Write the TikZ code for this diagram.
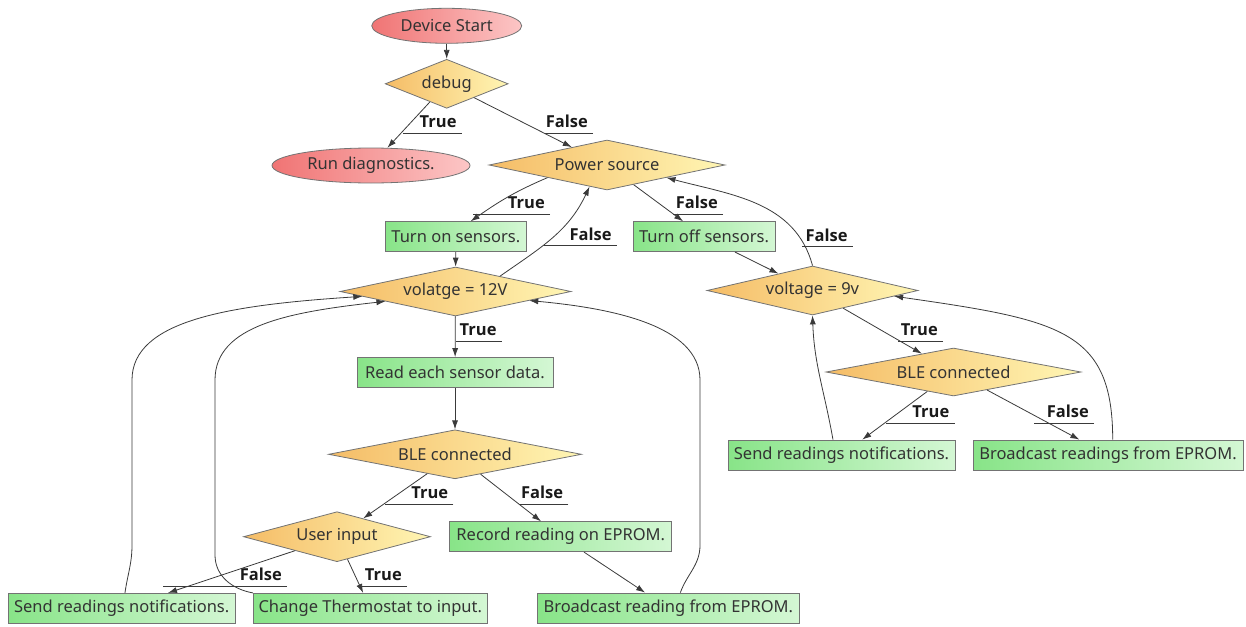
\documentclass[tikz,border=0pt]{standalone}
\usepackage{fontspec}
\setmainfont{Noto Sans}
\IfFontExistsTF{NotoSans-Bold.ttf}{\newfontfamily\labfont{NotoSans-Bold.ttf}}{%
 \IfFontExistsTF{Open Sans Bold}{\newfontfamily\labfont{Open Sans Bold}}{%
  \IfFontExistsTF{OpenSans-Bold.ttf}{\newfontfamily\labfont{OpenSans-Bold.ttf}}{%
   \newfontfamily\labfont{Noto Sans}[FakeBold=4]}}}
\usetikzlibrary{shapes.geometric,arrows.meta,calc}
\definecolor{redL}{HTML}{F07474}
\definecolor{redR}{HTML}{FCC6C6}
\definecolor{ornL}{HTML}{F5BC66}
\definecolor{ornR}{HTML}{FFF6B4}
\definecolor{grnL}{HTML}{88E488}
\definecolor{grnR}{HTML}{D4F7D4}
\definecolor{txt}{HTML}{333333}
\definecolor{lin}{HTML}{3A3A3A}
\begin{document}
\begin{tikzpicture}[x=1pt,y=-1pt,
  every node/.style={font=\fontsize{16.5}{20}\selectfont, text=txt},
  base/.style={draw=black!55, line width=0.8pt, inner sep=0pt},
  term/.style={base, ellipse, left color=redL, right color=redR},
  cond/.style={base, diamond, left color=ornL, right color=ornR},
  proc/.style={base, rectangle, left color=grnL, right color=grnR, minimum height=30pt},
  arr/.style={draw=lin, line width=0.8pt, -{Latex[length=9pt,width=6pt]}},
  elab/.style={font=\labfont\fontsize{16.5}{20}\selectfont, text=black!90, anchor=south east,
    inner xsep=0pt, inner ysep=5pt,
    append after command={(\tikzlastnode.south east) edge[draw=lin, line width=0.8pt] ([xshift=-#1]\tikzlastnode.south east)}}
]
\useasboundingbox (0,0) rectangle (1246,626);

% nodes
\node[term, minimum width=150pt, minimum height=35pt] (start) at (446.7,25.8) {Device Start};
\node[cond, minimum width=123pt, minimum height=49pt, aspect=2.5] (debug) at (446.7,83.8) {debug};
\node[term, minimum width=198pt, minimum height=35pt] (diag) at (371,165.5) {Run diagnostics.};
\node[cond, minimum width=236pt, minimum height=50pt, aspect=4.7] (power) at (607,165) {Power source};
\node[proc, minimum width=141pt] (on) at (455.8,236.7) {Turn on sensors.};
\node[proc, minimum width=142pt] (off) at (704,236.7) {Turn off sensors.};
\node[cond, minimum width=231pt, minimum height=49pt, aspect=4.7] (v12) at (455.5,291.5) {volatge = 12V};
\node[cond, minimum width=211pt, minimum height=49pt, aspect=4.3] (v9) at (812.5,290.5) {voltage = 9v};
\node[proc, minimum width=196pt] (read) at (455,372.5) {Read each sensor data.};
\node[cond, minimum width=253pt, minimum height=49pt, aspect=5.2] (blel) at (455,454.3) {BLE connected};
\node[cond, minimum width=255pt, minimum height=48pt, aspect=5.3] (bler) at (953.5,372) {BLE connected};
\node[cond, minimum width=187pt, minimum height=50pt, aspect=3.7] (user) at (337,536.7) {User input};
\node[proc, minimum width=222pt] (record) at (560.8,536.7) {Record reading on EPROM.};
\node[proc, minimum width=227pt] (sendl) at (121.7,608.3) {Send readings notifications.};
\node[proc, minimum width=234pt] (change) at (370.3,608.3) {Change Thermostat to input.};
\node[proc, minimum width=262pt] (bcast) at (668.3,608) {Broadcast reading from EPROM.};
\node[proc, minimum width=227pt] (sendr) at (841.5,455) {Send readings notifications.};
\node[proc, minimum width=270pt] (bbr) at (1108,455) {Broadcast readings from EPROM.};

% edge labels
\node[elab=59pt] (t1) at (461.7,133.3) {True\kern5pt};
\node[elab=48pt] (f1) at (593,133.3) {False\kern5pt};
\node[elab=77pt] (t2) at (550,214.3) {True\kern5pt};
\node[elab=50pt] (f2) at (723,214.3) {False\kern5pt};
\node[elab=73pt] (f3) at (616.7,245.7) {False\kern5pt};
\node[elab=51pt] (f4) at (852.7,246.7) {False\kern5pt};
\node[elab=46pt] (t3) at (501.7,341) {True\kern5pt};
\node[elab=45pt] (t4) at (943,341) {True\kern5pt};
\node[elab=69pt] (t5) at (954.5,423) {True\kern5pt};
\node[elab=60pt] (f5) at (1094,423) {False\kern5pt};
\node[elab=68pt] (t6) at (453.3,504.3) {True\kern5pt};
\node[elab=48pt] (f6) at (568.3,504.3) {False\kern5pt};
\node[elab=47pt] (t7) at (407,586) {True\kern5pt};
\node[elab=124pt] (f7) at (287,586) {False\kern5pt};

% connectors
\draw[arr] (start) -- (debug);
\draw[arr] (debug) -- (diag);
\draw[arr] (debug) -- (power);
\draw[arr] (power.-168) to[out=203,in=35] (on.46);
\draw[arr] (power) -- (off);
\draw[arr] (on) -- (v12);
\draw[arr] (off) -- (v9);
\draw[arr] (v12.19) to[out=35,in=-115] (power.-129);
\draw[arr] (v9.north) to[out=105,in=-15] (power.-12);
\draw[arr] (v12) -- (read);
\draw[arr] (read) -- (blel);
\draw[arr] (blel) -- (user);
\draw[arr] (blel) -- (record);
\draw[arr] (user) -- (sendl);
\draw[arr] (user) -- (change);
\draw[arr] (record) -- (bcast);
\draw[arr] (v9) -- (bler);
\draw[arr] (bler) -- (sendr);
\draw[arr] (bler) -- (bbr);
\draw[arr] (sendl.78) to[out=82,in=-90] (132,545) -- (132,380) .. controls (132,320) and (230,305) .. (v12.-177);
\draw[arr] (change.north west) to[out=170,in=-90] (215,555) -- (215,380) .. controls (215,325) and (290,312) .. (v12.-172);
\draw[arr] (bcast.52) to[out=70,in=-90] (700,545) -- (700,380) .. controls (700,325) and (610,308) .. (v12.-7);
\draw[arr] (sendr.119) to[out=100,in=-88] (v9.south);
\draw[arr] (bbr.73) .. controls (1112.6,330) and (1060,320) .. (v9.-4);
\end{tikzpicture}
\end{document}
